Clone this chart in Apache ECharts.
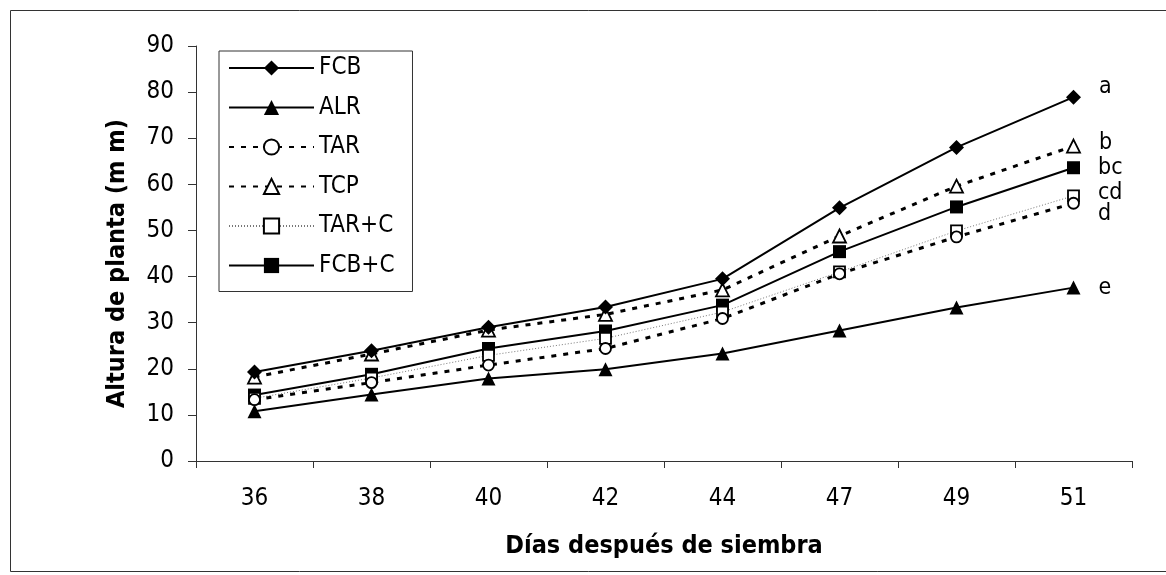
<!DOCTYPE html>
<html>
<head>
<meta charset="utf-8">
<script src="https://cdn.jsdelivr.net/npm/echarts@6/dist/echarts.min.js"></script>
<style>html,body{margin:0;padding:0;background:#fff}#c{width:1166px;height:575px}</style>
</head>
<body>
<div id="c"></div>
<script>
const categories = ['36', '38', '40', '42', '44', '47', '49', '51'];
const yTicks = [0, 10, 20, 30, 40, 50, 60, 70, 80, 90];
const seriesNames = ['FCB', 'ALR', 'TAR', 'TCP', 'TAR+C', 'FCB+C'];
const FCB   = [19.3, 23.9, 29.0, 33.4, 39.5, 54.9, 68.0, 78.9];
const ALR   = [10.8, 14.4, 17.9, 19.9, 23.3, 28.3, 33.3, 37.6];
const TAR   = [13.3, 17.0, 20.8, 24.4, 30.9, 40.6, 48.6, 55.9];
const TCP   = [18.2, 23.2, 28.4, 31.8, 37.1, 48.8, 59.6, 68.3];
const TARC  = [13.6, 18.0, 22.9, 26.6, 32.3, 41.0, 49.9, 57.5];
const FCBC  = [14.3, 18.8, 24.4, 28.2, 33.8, 45.4, 55.1, 63.6];
const letters = ['a', 'e', 'd', 'b', 'cd', 'bc'];

const FONT = "'Liberation Sans Narrow', 'Arial Narrow', 'DejaVu Sans Condensed', sans-serif";
const values = [FCB, ALR, TAR, TCP, TARC, FCBC];
const styles = [
  {symbol: 'diamond', size: 15, fill: '#000', line: {type: 'solid', width: 2, color: '#000'}, lab: [0, -10]},
  {symbol: 'triangle', size: 14, fill: '#000', line: {type: 'solid', width: 2, color: '#000'}, lab: [0, 0]},
  {symbol: 'circle', size: 11, fill: '#fff', line: {type: [5, 7], width: 3, color: '#000'}, lab: [0, 11]},
  {symbol: 'triangle', size: 13, fill: '#fff', line: {type: [5, 7], width: 3, color: '#000'}, lab: [0, -3]},
  {symbol: 'rect', size: 11, fill: '#fff', line: {type: [1, 2], width: 1, color: '#777'}, lab: [0, -3]},
  {symbol: 'rect', size: 13, fill: '#000', line: {type: 'solid', width: 2, color: '#000'}, lab: [0, 0]}
];

const series = seriesNames.map((name, i) => {
  const st = styles[i];
  const n = values[i].length;
  const data = values[i].map((v, j) => j === n - 1 ? {
    value: v,
    label: {show: true, formatter: letters[i], position: 'right', distance: 18,
            offset: st.lab, color: '#000', fontSize: 23, fontFamily: FONT}
  } : v);
  return {
    name, type: 'line', data,
    symbol: st.symbol, symbolSize: st.size, showSymbol: true,
    lineStyle: st.line,
    itemStyle: {color: st.fill, borderColor: '#000', borderWidth: st.fill === '#fff' ? 1.8 : 0},
    emphasis: {disabled: true},
    animation: false,
    z: 10 - i
  };
});

const chart = echarts.init(document.getElementById('c'), null, {renderer: 'canvas'});
chart.setOption({
  animation: false,
  backgroundColor: '#fff',
  graphic: [{type: 'rect', shape: {x: 10.5, y: 10.5, width: 1170, height: 561},
             style: {fill: 'none', stroke: '#333', lineWidth: 1}, silent: true}],
  grid: {left: 196, right: 34, top: 46, bottom: 114},
  legend: {
    orient: 'vertical', left: 219, top: 51,
    data: seriesNames,
    itemWidth: 85, itemHeight: 19, itemGap: 15.5,
    padding: [5, 18, 14, 9],
    borderColor: '#333', borderWidth: 1, backgroundColor: '#fff',
    textStyle: {fontSize: 24, fontFamily: FONT, color: '#000', lineHeight: 24},
    selectedMode: false
  },
  xAxis: {
    type: 'category', data: categories, boundaryGap: true,
    name: 'Días después de siembra', nameLocation: 'middle', nameGap: 73,
    nameTextStyle: {fontSize: 25, fontWeight: 'bold', fontFamily: FONT, color: '#000'},
    axisLine: {lineStyle: {color: '#333', width: 1}},
    axisTick: {show: true, length: 7, lineStyle: {color: '#333'}},
    axisLabel: {fontSize: 24, fontFamily: FONT, color: '#000', margin: 26}
  },
  yAxis: {
    type: 'value', min: yTicks[0], max: yTicks[yTicks.length - 1], interval: 10,
    name: 'Altura de planta (m m)', nameLocation: 'middle', nameGap: 66,
    nameTextStyle: {fontSize: 25, fontWeight: 'bold', fontFamily: FONT, color: '#000', padding: [0, 20, 0, 0]},
    axisLine: {show: true, lineStyle: {color: '#333', width: 1}},
    axisTick: {show: true, length: 8, lineStyle: {color: '#333'}},
    splitLine: {show: false},
    axisLabel: {fontSize: 24, fontFamily: FONT, color: '#000', margin: 22}
  },
  series
});
</script>
</body>
</html>
